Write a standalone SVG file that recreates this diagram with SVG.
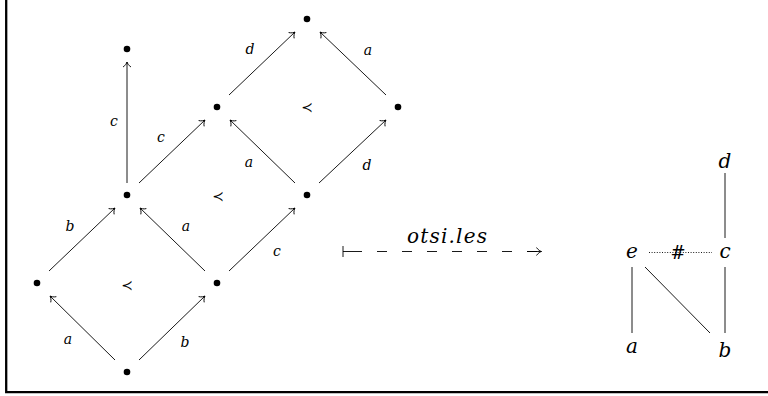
<svg xmlns="http://www.w3.org/2000/svg" width="768" height="396" viewBox="0 0 768 396">
<style>
.e{stroke:#000;stroke-width:0.9;fill:none;marker-end:url(#to)}
.l{stroke:#000;stroke-width:0.9;fill:none}
.dot{fill:#000}
.sm{font-family:'DejaVu Serif',serif;font-style:italic;font-size:14px;text-anchor:middle;fill:#000}
.bg{font-family:'DejaVu Serif',serif;font-style:italic;font-size:20px;text-anchor:middle;fill:#000}
.prec{font-family:'DejaVu Sans',sans-serif;font-size:14px;text-anchor:middle;fill:#000}
</style>
<defs>
<marker id="to" viewBox="-7 -5 8 10" markerWidth="8" markerHeight="10" refX="0" refY="0" orient="auto" markerUnits="userSpaceOnUse" overflow="visible">
<path d="M-5,-4 C-3.5,-1.5 -1,-0.3 0,0 C-1,0.3 -3.5,1.5 -5,4" fill="none" stroke="#000" stroke-width="0.9"/>
</marker>
</defs>
<rect width="768" height="396" fill="#fff"/>
<path d="M6.2,0 V392.2 H768" fill="none" stroke="#000" stroke-width="2.3"/>
<g id="connectors">
<path class="e" d="M115,360 L50,296"/>
<path class="e" d="M139,360 L205,296"/>
<path class="e" d="M49,271 L115,208"/>
<path class="e" d="M205,271 L140,208"/>
<path class="e" d="M229,271 L295,208"/>
<path class="e" d="M127,183 L127,62"/>
<path class="e" d="M139,183 L205,120"/>
<path class="e" d="M295,183 L230,120"/>
<path class="e" d="M319,183 L386,120"/>
<path class="e" d="M229,95 L295,32"/>
<path class="e" d="M386,95 L320,32"/>
<text class="sm" x="68" y="344">a</text>
<text class="sm" x="185" y="347">b</text>
<text class="sm" x="70" y="231">b</text>
<text class="sm" x="186" y="231">a</text>
<text class="sm" x="277" y="256">c</text>
<text class="sm" x="114" y="126">c</text>
<text class="sm" x="161" y="142">c</text>
<text class="sm" x="249" y="167">a</text>
<text class="sm" x="367" y="170">d</text>
<text class="sm" x="250" y="54">d</text>
<text class="sm" x="368" y="55">a</text>
<text class="prec" x="127" y="290">≺</text>
<text class="prec" x="218" y="201">≺</text>
<text class="prec" x="307" y="112">≺</text>
<path class="l" d="M343,246 V257 M343,251.5 H352"/>
<path class="l" d="M352,251.5 H540" stroke-dasharray="10 15"/>
<path class="e" d="M527,251.5 H541.5"/>
<text class="bg" x="447" y="243" textLength="80" lengthAdjust="spacing">otsi.les</text>
<path class="l" d="M725,173 V238"/>
<path class="l" d="M725,267 V333"/>
<path class="l" d="M632,267 V333"/>
<path class="l" d="M645,267 L710,333"/>
<path class="l" d="M649,252.5 H712" stroke-dasharray="1 1.6" stroke-width="0.8"/>
<text x="678" y="259" font-family="'DejaVu Serif', serif" font-size="18" text-anchor="middle">#</text>
</g>
<g id="n1"><circle class="dot" cx="127" cy="372" r="3.3"/></g>
<g id="n2"><circle class="dot" cx="37" cy="283" r="3.3"/></g>
<g id="n3"><circle class="dot" cx="217" cy="283" r="3.3"/></g>
<g id="n4"><circle class="dot" cx="127" cy="195" r="3.3"/></g>
<g id="n5"><circle class="dot" cx="307" cy="195" r="3.3"/></g>
<g id="n6"><circle class="dot" cx="127" cy="49" r="3.3"/></g>
<g id="n7"><circle class="dot" cx="217" cy="107" r="3.3"/></g>
<g id="n8"><circle class="dot" cx="398" cy="107" r="3.3"/></g>
<g id="n9"><circle class="dot" cx="307" cy="19" r="3.3"/></g>
<g id="node-d"><text class="bg" x="725" y="168">d</text></g>
<g id="node-c"><text class="bg" x="725" y="258">c</text></g>
<g id="node-e"><text class="bg" x="632" y="258">e</text></g>
<g id="node-a"><text class="bg" x="632" y="353">a</text></g>
<g id="node-b"><text class="bg" x="725" y="357">b</text></g>
</svg>
